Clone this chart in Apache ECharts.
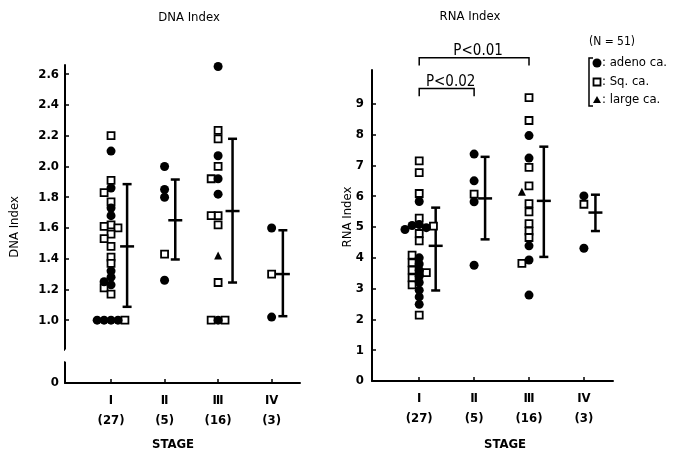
<!DOCTYPE html>
<html><head><meta charset="utf-8">
<script src="https://cdn.jsdelivr.net/npm/echarts@6/dist/echarts.min.js"></script>
<style>html,body{margin:0;padding:0;background:#fff}#c{width:687px;height:456px}</style>
</head><body><div id="c"></div>
<script>
// ---------- data ----------
const stages = ['Ⅰ', 'Ⅱ', 'Ⅲ', 'IV'];
const counts = ['(27)', '(5)', '(16)', '(3)'];

const dnaAdeno = [
  [2.10, 1.86, 1.73, 1.68, 1.32, 1.28, 1.25, 1.23, 1.0, 1.0, 1.0, 1.0],
  [2.00, 1.85, 1.80, 1.26],
  [2.65, 2.07, 1.92, 1.82, 1.0],
  [1.60, 1.02]
];
const dnaSq = [
  [2.20, 1.91, 1.83, 1.77, 1.62, 1.61, 1.60, 1.56, 1.53, 1.48, 1.41, 1.37, 1.21, 1.17, 1.0],
  [1.43],
  [2.235, 2.18, 2.00, 1.92, 1.68, 1.68, 1.62, 1.245, 1.0, 1.0],
  [1.30]
];
const dnaLarge = [[], [], [1.42], []];
const dnaMean = [1.48, 1.65, 1.71, 1.30];
const dnaHigh = [1.885, 1.915, 2.18, 1.585];
const dnaLow = [1.087, 1.395, 1.245, 1.026];

const rnaAdeno = [
  [5.83, 5.08, 5.05, 4.98, 4.92, 4.0, 3.8, 3.6, 3.4, 3.2, 2.95, 2.73, 2.49],
  [7.37, 6.50, 5.82, 3.76],
  [7.97, 7.24, 4.39, 3.93, 2.79],
  [6.01, 4.31]
];
const rnaSq = [
  [7.15, 6.77, 6.09, 5.29, 5.03, 4.79, 4.55, 4.09, 3.84, 3.60, 3.52, 3.35, 3.12, 2.14],
  [6.07],
  [9.2, 8.46, 6.94, 6.34, 5.76, 5.49, 5.11, 4.87, 4.66, 3.82],
  [5.74]
];
const rnaLarge = [[], [], [6.15], []];
const rnaMean = [4.39, 5.93, 5.85, 5.47];
const rnaHigh = [5.63, 7.28, 7.61, 6.05];
const rnaLow = [2.94, 4.60, 4.03, 4.87];

const dnaTicks = [0, 1.0, 1.2, 1.4, 1.6, 1.8, 2.0, 2.2, 2.4, 2.6];
const rnaTicks = [0, 1, 2, 3, 4, 5, 6, 7, 8, 9];

const brackets = [
  { from: 1, to: 2, level: 9.5, drop: 9.25, label: 'P<0.02' },
  { from: 1, to: 3, level: 10.5, drop: 10.25, label: 'P<0.01' }
];

// ---------- layout helpers ----------
const FONT = "'DejaVu Sans Condensed','DejaVu Sans',sans-serif";
const FW = 'bold';
const INK = '#000';
const STEP = 7, VSEP = 6, XPX = 54;
const barShift = [0.30, 0.20, 0.27, 0.21];

function swarm(adeno, sq, large, yPx) {
  const out = { adeno: [], sq: [], large: [] };
  for (let s = 0; s < 4; s++) {
    const placed = [];
    const pts = [];
    adeno[s].forEach(v => pts.push(['adeno', v]));
    sq[s].forEach(v => pts.push(['sq', v]));
    large[s].forEach(v => pts.push(['large', v]));
    pts.forEach(([t, v]) => {
      const y = v * yPx;
      let dx = 0;
      for (const k of [0, -1, 1, -2, 2, -3, 3, -4, 4]) {
        const d = k * STEP;
        if (!placed.some(p => Math.abs(p.dx - d) < STEP - 0.5 && Math.abs(p.y - y) < VSEP)) { dx = d; break; }
      }
      placed.push({ dx, y });
      out[t].push([s + 1 + dx / XPX, v]);
    });
  }
  return out;
}

const dnaPts = swarm(dnaAdeno, dnaSq, dnaLarge, 153.75);
const rnaPts = swarm(rnaAdeno, rnaSq, rnaLarge, 30.8);

function errRender(params, api) {
  const x = api.value(0);
  const lo = api.coord([x, api.value(1)]);
  const m = api.coord([x, api.value(2)]);
  const hi = api.coord([x, api.value(3)]);
  const st = { stroke: INK, lineWidth: 2.5 };
  return {
    type: 'group', children: [
      { type: 'line', shape: { x1: lo[0], y1: lo[1], x2: hi[0], y2: hi[1] }, style: st },
      { type: 'line', shape: { x1: hi[0] - 4.5, y1: hi[1], x2: hi[0] + 4.5, y2: hi[1] }, style: st },
      { type: 'line', shape: { x1: lo[0] - 4.5, y1: lo[1], x2: lo[0] + 4.5, y2: lo[1] }, style: st },
      { type: 'line', shape: { x1: m[0] - 7, y1: m[1], x2: m[0] + 7, y2: m[1] }, style: st }
    ]
  };
}

function bracketRender(params, api) {
  const a = api.coord([api.value(0), api.value(2)]);
  const b = api.coord([api.value(1), api.value(2)]);
  const ad = api.coord([api.value(0), api.value(3)]);
  const bd = api.coord([api.value(1), api.value(3)]);
  const label = brackets[params.dataIndex].label;
  return {
    type: 'group', children: [
      { type: 'polyline', shape: { points: [[ad[0], ad[1]], [a[0], a[1]], [b[0], b[1]], [bd[0], bd[1]]] }, style: { stroke: INK, lineWidth: 1.5, fill: null } },
      { type: 'text', x: (a[0] + b[0]) / 2 + 4, y: a[1] + 1, style: { text: label, font: '15px ' + FONT, fill: INK, align: 'center', verticalAlign: 'bottom' } }
    ]
  };
}

const xAxisBase = (gridIndex) => ({
  gridIndex, type: 'value', min: 0.14, max: 4.53,
  axisLine: { show: true, lineStyle: { color: INK, width: 2 } },
  axisTick: { show: true, inside: true, length: 4, customValues: [1, 2, 3, 4], lineStyle: { color: INK, width: 1.5 } },
  axisLabel: {
    customValues: [1, 2, 3, 4], margin: 8, color: INK, fontFamily: FONT, fontWeight: FW, fontSize: 13, lineHeight: 20,
    formatter: v => stages[Math.round(v) - 1] + '\n' + counts[Math.round(v) - 1]
  },
  splitLine: { show: false }
});

const scatterSeries = (pts, xi) => [
  { type: 'scatter', xAxisIndex: xi, yAxisIndex: xi, data: pts.sq, symbol: 'rect', symbolSize: 7, itemStyle: { color: '#fff', borderColor: INK, borderWidth: 1.8, opacity: 1 }, z: 3 },
  { type: 'scatter', xAxisIndex: xi, yAxisIndex: xi, data: pts.adeno, symbol: 'circle', symbolSize: 9, itemStyle: { color: INK, opacity: 1 }, z: 4 },
  { type: 'scatter', xAxisIndex: xi, yAxisIndex: xi, data: pts.large, symbol: 'triangle', symbolSize: 8, itemStyle: { color: INK, opacity: 1 }, z: 4 }
];

const txt = (x, y, text, extra) => ({ type: 'text', x, y, style: Object.assign({ text, font: FW + ' 13px ' + FONT, fill: INK, align: 'center', verticalAlign: 'middle' }, extra || {}) });

const option = {
  backgroundColor: '#fff',
  animation: false,
  grid: [
    { left: 65, right: 387, top: 65, bottom: 73 },
    { left: 372, right: 74, top: 70, bottom: 75 }
  ],
  xAxis: [xAxisBase(0), xAxisBase(1)],
  yAxis: [
    {
      gridIndex: 0, type: 'value', min: 0, max: 2.66,
      breaks: [{ start: 0.14, end: 0.81, gap: '3.8%' }],
      breakArea: { show: true, itemStyle: { color: '#fff', borderColor: '#fff', borderWidth: 0, opacity: 1 }, zigzagAmplitude: 2 },
      axisLine: { show: true, lineStyle: { color: INK, width: 2 } },
      axisTick: { show: true, inside: true, length: 4, customValues: dnaTicks, lineStyle: { color: INK, width: 1.5 } },
      axisLabel: { customValues: dnaTicks, margin: 6, color: INK, fontFamily: FONT, fontWeight: FW, fontSize: 13, formatter: v => v === 0 ? '0' : v.toFixed(1) },
      splitLine: { show: false }
    },
    {
      gridIndex: 1, type: 'value', min: 0, max: 10.1,
      axisLine: { show: true, lineStyle: { color: INK, width: 2 } },
      axisTick: { show: true, inside: true, length: 4, customValues: rnaTicks, lineStyle: { color: INK, width: 1.5 } },
      axisLabel: { customValues: rnaTicks, margin: 8, color: INK, fontFamily: FONT, fontWeight: FW, fontSize: 13 },
      splitLine: { show: false }
    }
  ],
  series: [
    ...scatterSeries(dnaPts, 0),
    ...scatterSeries(rnaPts, 1),
    { type: 'custom', xAxisIndex: 0, yAxisIndex: 0, renderItem: errRender, clip: false, z: 2,
      data: stages.map((_, i) => [i + 1 + barShift[i], dnaLow[i], dnaMean[i], dnaHigh[i]]) },
    { type: 'custom', xAxisIndex: 1, yAxisIndex: 1, renderItem: errRender, clip: false, z: 2,
      data: stages.map((_, i) => [i + 1 + barShift[i], rnaLow[i], rnaMean[i], rnaHigh[i]]) },
    { type: 'custom', xAxisIndex: 1, yAxisIndex: 1, renderItem: bracketRender, clip: false, z: 2,
      data: brackets.map(b => [b.from, b.to, b.level, b.drop]) }
  ],
  graphic: [
    txt(189, 18, 'DNA Index', { font: '13px ' + FONT }),
    txt(470, 17, 'RNA Index', { font: '13px ' + FONT }),
    { type: 'text', x: 15, y: 227, rotation: Math.PI / 2, style: { text: 'DNA Index', font: '13px ' + FONT, fill: INK, align: 'center', verticalAlign: 'middle' } },
    { type: 'text', x: 348, y: 217, rotation: Math.PI / 2, style: { text: 'RNA Index', font: '13px ' + FONT, fill: INK, align: 'center', verticalAlign: 'middle' } },
    txt(173, 445, 'STAGE'),
    txt(505, 445, 'STAGE'),
    txt(612, 42, '(N = 51)', { font: '12px ' + FONT }),
    { type: 'polyline', shape: { points: [[593, 58], [589, 58], [589, 106], [593, 106]] }, style: { stroke: INK, lineWidth: 1.5, fill: null } },
    { type: 'circle', shape: { cx: 597, cy: 63, r: 4.5 }, style: { fill: INK } },
    { type: 'rect', shape: { x: 593.5, y: 78.5, width: 7, height: 7 }, style: { fill: '#fff', stroke: INK, lineWidth: 1.8 } },
    { type: 'polygon', shape: { points: [[597, 96], [601, 103], [593, 103]] }, style: { fill: INK } },
    txt(602, 63, ': adeno ca.', { align: 'left', font: '13px ' + FONT }),
    txt(602, 82, ': Sq. ca.', { align: 'left', font: '13px ' + FONT }),
    txt(602, 100, ': large ca.', { align: 'left', font: '13px ' + FONT })
  ]
};

const chart = echarts.init(document.getElementById('c'), null, { renderer: 'canvas' });
chart.setOption(option);
</script>
</body></html>
